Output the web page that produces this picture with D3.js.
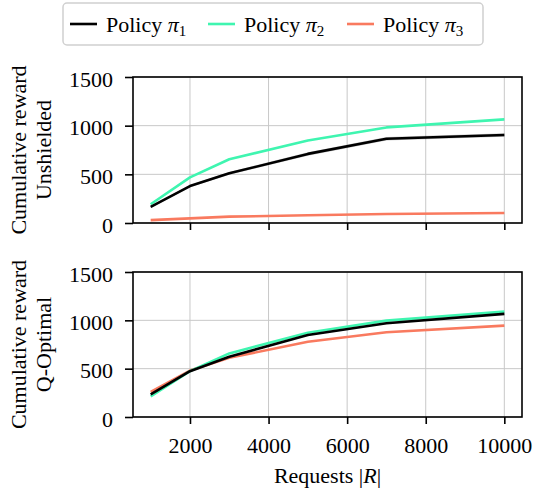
<!DOCTYPE html>
<html>
<head>
<meta charset="utf-8">
<script src="https://cdn.jsdelivr.net/npm/d3@7"></script>
<style>
  body { margin: 0; background: #fff; }
  svg { display: block; }
</style>
</head>
<body>
<div id="chart"></div>
<script>
// request counts on the x axis
var requests = [1000, 2000, 3000, 5000, 7000, 10000];
var xTicks = [2000, 4000, 6000, 8000, 10000];
var yTicks = [0, 500, 1000, 1500];

// top panel: unshielded
var unshieldedPi1 = [165, 379, 510, 710, 865, 904];
var unshieldedPi2 = [193, 469, 655, 848, 982, 1065];
var unshieldedPi3 = [30, 48, 65, 79, 92, 102];
// spread (shaded band half width)
var unshieldedPi1Sd = [10, 12, 14, 18, 18, 18];
var unshieldedPi2Sd = [4, 5, 5, 5, 5, 5];
var unshieldedPi3Sd = [3, 3, 3, 3, 3, 3];

// bottom panel: Q-optimal
var qoptPi1 = [235, 474, 623, 848, 970, 1067];
var qoptPi2 = [214, 474, 658, 872, 997, 1090];
var qoptPi3 = [259, 480, 612, 779, 876, 945];
var qoptPi1Sd = [6, 6, 6, 6, 6, 6];
var qoptPi2Sd = [5, 5, 5, 5, 5, 5];
var qoptPi3Sd = [5, 5, 5, 5, 5, 5];

var policyNames = ['1', '2', '3'];
var colors = ['#000000', '#3ff5b0', '#f97a5f'];

var FONT = 'Liberation Serif';
var W = 533, H = 492;
var svg = d3.select('#chart').append('svg').attr('width', W).attr('height', H)
  .attr('font-family', FONT);

var left = 133, right = 522;
var x = d3.scaleLinear().domain([550, 10450]).range([left, right]);

var panels = [
  { top: 77, bottom: 223, label: 'Unshielded', series: [unshieldedPi1, unshieldedPi2, unshieldedPi3], sd: [unshieldedPi1Sd, unshieldedPi2Sd, unshieldedPi3Sd], xLabels: false },
  { top: 272, bottom: 417, label: 'Q-Optimal', series: [qoptPi1, qoptPi2, qoptPi3], sd: [qoptPi1Sd, qoptPi2Sd, qoptPi3Sd], xLabels: true }
];

panels.forEach(function(p) {
  var y = d3.scaleLinear().domain([0, 1500]).range([p.bottom, p.top]);
  var g = svg.append('g');

  // grid
  g.append('g').selectAll('line').data(xTicks).enter().append('line')
    .attr('x1', function(d) { return x(d); }).attr('x2', function(d) { return x(d); })
    .attr('y1', p.top).attr('y2', p.bottom)
    .attr('stroke', '#c8c8c8').attr('stroke-width', 1);
  g.append('g').selectAll('line').data(yTicks).enter().append('line')
    .attr('x1', left).attr('x2', right)
    .attr('y1', function(d) { return y(d); }).attr('y2', function(d) { return y(d); })
    .attr('stroke', '#c8c8c8').attr('stroke-width', 1);

  // bands + lines, drawn so that pi1 ends on top
  var order = [2, 1, 0];
  order.forEach(function(i) {
    var vals = p.series[i], sd = p.sd[i];
    var area = d3.area()
      .x(function(d, k) { return x(requests[k]); })
      .y0(function(d, k) { return y(d - sd[k]); })
      .y1(function(d, k) { return y(d + sd[k]); });
    g.append('path').datum(vals).attr('d', area)
      .attr('fill', colors[i]).attr('fill-opacity', 0.2);
  });
  order.forEach(function(i) {
    var line = d3.line()
      .x(function(d, k) { return x(requests[k]); })
      .y(function(d) { return y(d); });
    g.append('path').datum(p.series[i]).attr('d', line)
      .attr('fill', 'none').attr('stroke', colors[i]).attr('stroke-width', 2.6)
      .attr('stroke-linejoin', 'round');
  });

  // frame
  g.append('rect').attr('x', left).attr('y', p.top)
    .attr('width', right - left).attr('height', p.bottom - p.top)
    .attr('fill', 'none').attr('stroke', '#000').attr('stroke-width', 1.6);

  // axes
  var yAxis = d3.axisLeft(y).tickValues(yTicks).tickSize(8).tickPadding(12).tickFormat(d3.format('d'));
  var ya = g.append('g').attr('transform', 'translate(' + left + ',0)').call(yAxis);
  ya.selectAll('text').attr('dy', '0.42em');
  var xAxis = d3.axisBottom(x).tickValues(xTicks).tickSize(7).tickPadding(13)
    .tickFormat(p.xLabels ? d3.format('d') : function() { return ''; });
  var xa = g.append('g').attr('transform', 'translate(0,' + p.bottom + ')').call(xAxis);
  [ya, xa].forEach(function(a) {
    a.attr('font-size', 22).attr('font-family', FONT);
    a.select('.domain').remove();
    a.selectAll('line').attr('stroke', '#000').attr('stroke-width', 1.6);
    a.selectAll('text').attr('fill', '#000').attr('font-family', FONT);
  });

  // y label (two lines)
  var cy = (p.top + p.bottom) / 2;
  var yl = g.append('text').attr('transform', 'translate(26,' + cy + ') rotate(-90)')
    .attr('text-anchor', 'middle').attr('font-size', 22).attr('font-family', FONT);
  yl.append('tspan').attr('x', 0).attr('y', 0).text('Cumulative reward');
  yl.append('tspan').attr('x', 0).attr('y', 25).text(p.label);
});

// x label
var xl = svg.append('text').attr('x', (left + right) / 2).attr('y', 483)
  .attr('text-anchor', 'middle').attr('font-size', 22).attr('font-family', FONT);
xl.append('tspan').text('Requests |');
xl.append('tspan').attr('font-style', 'italic').text('R');
xl.append('tspan').text('|');

// legend
var lg = svg.append('g');
lg.append('rect').attr('x', 63).attr('y', 3).attr('width', 420).attr('height', 42)
  .attr('rx', 4).attr('fill', '#fff').attr('stroke', '#d0d0d0').attr('stroke-width', 1.5);
var legendX = [70, 208, 347];
policyNames.forEach(function(n, i) {
  var lx = legendX[i];
  lg.append('line').attr('x1', lx).attr('x2', lx + 27).attr('y1', 24).attr('y2', 24)
    .attr('stroke', colors[i]).attr('stroke-width', 2.6);
  var t = lg.append('text').attr('x', lx + 36).attr('y', 32).attr('font-size', 22)
    .attr('font-family', FONT);
  t.append('tspan').text('Policy ');
  t.append('tspan').attr('font-style', 'italic').text('\u03c0');
  t.append('tspan').attr('dy', 4).attr('font-size', 15).text(n);
});
</script>
</body>
</html>
